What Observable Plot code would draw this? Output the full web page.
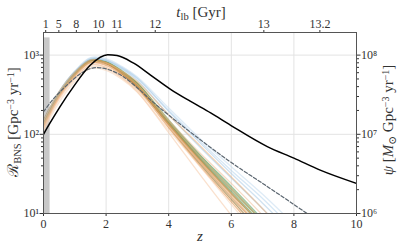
<!DOCTYPE html>
<html><head><meta charset="utf-8">
<script src="https://cdn.jsdelivr.net/npm/d3@7"></script>
<script src="https://cdn.jsdelivr.net/npm/@observablehq/plot@0.6"></script>
<style>
body{margin:0;background:#fff}
svg{font-family:"Liberation Serif","DejaVu Serif",serif}
</style>
</head><body><div id="chart"></div>
<script>
// ---- data ----
const zGrid = [0, 0.5, 1, 1.5, 2, 2.5, 3, 4, 5, 6, 7, 8];
const seriesColors = [
  "#3f8f4c","#4f9a5a","#5fa86a","#4a8f55",
  "#a06e1e","#8f6418","#b08434","#8a7f2e",
  "#e08a3c","#f3c4a0","#f5cfae","#f0bc94","#f7d3b6","#e99a55",
  "#a9cbe6","#b5d3ec","#9fc3e0","#c2dbef",
  "#d4b483","#c09858","#f6c9a6","#eeb07a"
];
const seriesValues = [
  [130, 320, 585, 850, 800, 610, 420, 140, 50, 19, 7.2, 2.6],
  [135, 330, 600, 870, 830, 640, 445, 152, 55, 22, 8.4, 3.0],
  [125, 310, 565, 830, 800, 620, 435, 148, 54, 21, 8.0, 3.0],
  [140, 335, 610, 880, 820, 620, 425, 139, 48, 18, 6.8, 2.4],
  [140, 335, 600, 860, 790, 590, 400, 130, 44, 16, 6.0, 2.0],
  [150, 345, 615, 870, 790, 580, 390, 125, 42, 15, 5.5, 2.0],
  [125, 300, 550, 810, 770, 590, 410, 135, 48, 18, 7.0, 2.5],
  [135, 325, 585, 860, 810, 625, 440, 146, 52, 20, 7.8, 2.8],
  [130, 310, 560, 810, 740, 560, 380, 121, 40, 14, 5.0, 1.7],
  [120, 285, 515, 750, 700, 535, 370, 125, 44, 16, 6.0, 2.0],
  [115, 275, 495, 720, 670, 515, 360, 126, 46, 18, 7.0, 2.5],
  [125, 295, 540, 790, 750, 590, 420, 151, 58, 24, 9.5, 3.5],
  [110, 255, 465, 680, 640, 495, 340, 113, 39, 13, 4.5, 1.5],
  [145, 340, 605, 870, 800, 600, 410, 134, 46, 17, 6.2, 2.2],
  [140, 335, 620, 910, 880, 700, 510, 195, 78, 32, 13.5, 5.4],
  [135, 325, 600, 890, 860, 690, 505, 200, 82, 35, 15.5, 6.2],
  [130, 320, 590, 880, 850, 670, 480, 176, 69, 28, 11.5, 4.5],
  [145, 345, 630, 930, 900, 720, 530, 215, 88, 39, 17.5, 7.3],
  [135, 325, 590, 860, 810, 620, 430, 146, 53, 21, 8.0, 3.0],
  [140, 330, 595, 855, 800, 605, 415, 137, 48, 18, 7.0, 2.5],
  [120, 290, 520, 760, 700, 520, 345, 105, 31, 9.5, 3.0, 1.0],
  [130, 305, 555, 820, 790, 630, 460, 175, 72, 29, 11.5, 4.3]
];
const dashZ = [0, 0.3, 0.7, 1.2, 1.6, 2.0, 2.5, 3, 3.5, 4, 5, 6, 7, 8, 8.5];
const dashR = [193, 275, 400, 590, 690, 670, 550, 385, 255, 175, 86, 44, 24, 13, 9.5];
const sfrZ = [0, 0.21, 0.53, 0.96, 1.5, 2.05, 2.35, 2.88, 3.42, 4.06, 4.7, 5.34, 5.98, 7.15, 8.0, 8.86, 10];
const sfrPsi = [1.0e7, 1.39e7, 2.24e7, 4.0e7, 7.5e7, 1.01e8, 0.99e8, 7.9e7, 5.6e7, 3.7e7, 2.6e7, 1.86e7, 1.3e7, 7.0e6, 5.0e6, 3.5e6, 2.4e6];
const psiPerRate = 1e5;           // right axis = left axis x 1e5
const shadeZ = [0, 0.21];
const shadeR = [10, 1650];
const xTicks = [0, 2, 4, 6, 8, 10];
const tlbLabels = ["1", "5", "8", "10", "11", "12", "13", "13.2"];
const tlbZ = [0.07, 0.49, 1.05, 1.76, 2.35, 3.57, 7.04, 8.83];
const leftTicks = [10, 100, 1000];
const leftTickLabels = ["10¹", "10²", "10³"];
const rightTicks = [1e6, 1e7, 1e8];
const rightTickLabels = ["10⁶", "10⁷", "10⁸"];
const minorTicks = [20,30,40,50,60,70,80,90,200,300,400,500,600,700,800,900];

// ---- build tables ----
const rows = [];
seriesValues.forEach((vals, k) => vals.forEach((r, i) => rows.push({k, z: zGrid[i], r, c: seriesColors[k]})));
const dash = dashZ.map((z, i) => ({z, r: dashR[i]}));
const sfr = sfrZ.map((z, i) => ({z, r: sfrPsi[i] / psiPerRate}));
const shade = [{x1: shadeZ[0], x2: shadeZ[1], y1: shadeR[0], y2: shadeR[1]}];
const rightPos = rightTicks.map(v => v / psiPerRate);

const plot = Plot.plot({
  width: 399, height: 249,
  marginLeft: 43, marginRight: 43, marginTop: 32, marginBottom: 36,
  x: {domain: [0, 10]},
  y: {type: "log", domain: [10, 1930]},
  style: {fontFamily: "'Liberation Serif','DejaVu Serif',serif", fontSize: "12px", color: "#333", background: "#fff"},
  marks: [
    Plot.gridX([2, 4, 6, 8], {stroke: "#e3e3e3", strokeOpacity: 1}),
    Plot.gridY([100, 1000], {stroke: "#e3e3e3", strokeOpacity: 1}),
    Plot.rect(shade, {x1: "x1", x2: "x2", y1: "y1", y2: "y2", fill: "#c8c8c8"}),
    Plot.line(rows, {x: "z", y: "r", z: "k", stroke: "c", strokeOpacity: 0.55, strokeWidth: 1.3, curve: "catmull-rom", clip: true}),
    Plot.line(dash, {x: "z", y: "r", stroke: "#5b6670", strokeWidth: 1.2, strokeDasharray: "3.5,2", curve: "catmull-rom", clip: true}),
    Plot.line(sfr, {x: "z", y: "r", stroke: "#000", strokeWidth: 1.5, curve: "monotone-x", clip: true}),
    Plot.axisX(xTicks, {anchor: "bottom", tickSize: 3, tickPadding: 3, fontSize: 12, label: null, tickFormat: d => String(d)}),
    Plot.axisX(tlbZ, {anchor: "top", tickSize: 3, tickPadding: 2, fontSize: 12, label: null, tickFormat: d => tlbLabels[tlbZ.indexOf(d)]}),
    Plot.axisY(leftTicks, {anchor: "left", tickSize: 3.5, tickPadding: 1, fontSize: 12, label: null, tickFormat: d => leftTickLabels[leftTicks.indexOf(d)]}),
    Plot.axisY(minorTicks, {anchor: "left", tickSize: 2, label: null, tickFormat: () => ""}),
    Plot.axisY(rightPos, {anchor: "right", tickSize: 3.5, tickPadding: 1, fontSize: 12, label: null, tickFormat: d => rightTickLabels[rightPos.indexOf(d)]}),
    Plot.axisY(minorTicks, {anchor: "right", tickSize: 2, label: null, tickFormat: () => ""}),
    Plot.frame({stroke: "#555", strokeWidth: 1})
  ]
});
document.getElementById("chart").appendChild(plot);

// ---- axis titles with sub/superscripts ----
const svg = d3.select(plot);
const ff = "'Liberation Serif','DejaVu Serif',serif";
function addLabel(x, y, rot, parts) {
  const t = svg.append("text")
    .attr("transform", `translate(${x},${y}) rotate(${rot})`)
    .attr("text-anchor", "middle").attr("font-family", ff).attr("font-size", 15).attr("fill", "#333");
  parts.forEach(p => {
    const s = t.append("tspan").text(p.t);
    if (p.it) s.attr("font-style", "italic");
    if (p.sub) s.attr("font-size", 10.5).attr("baseline-shift", "-25%");
    if (p.sup) s.attr("font-size", 10).attr("baseline-shift", "45%");
  });
}
addLabel(201, 17, 0, [{t: "t", it: 1}, {t: "lb", sub: 1}, {t: " [Gyr]"}]);
addLabel(200, 241, 0, [{t: "z", it: 1}]);
addLabel(18, 122, -90, [{t: "ℛ"}, {t: "BNS", sub: 1}, {t: " [Gpc"}, {t: "−3", sup: 1}, {t: " yr"}, {t: "−1", sup: 1}, {t: "]"}]);
addLabel(393, 120, -90, [{t: "ψ", it: 1}, {t: " ["}, {t: "M", it: 1}, {t: "⊙", sub: 1}, {t: " Gpc"}, {t: "−3", sup: 1}, {t: " yr"}, {t: "−1", sup: 1}, {t: "]"}]);
</script>
</body></html>
